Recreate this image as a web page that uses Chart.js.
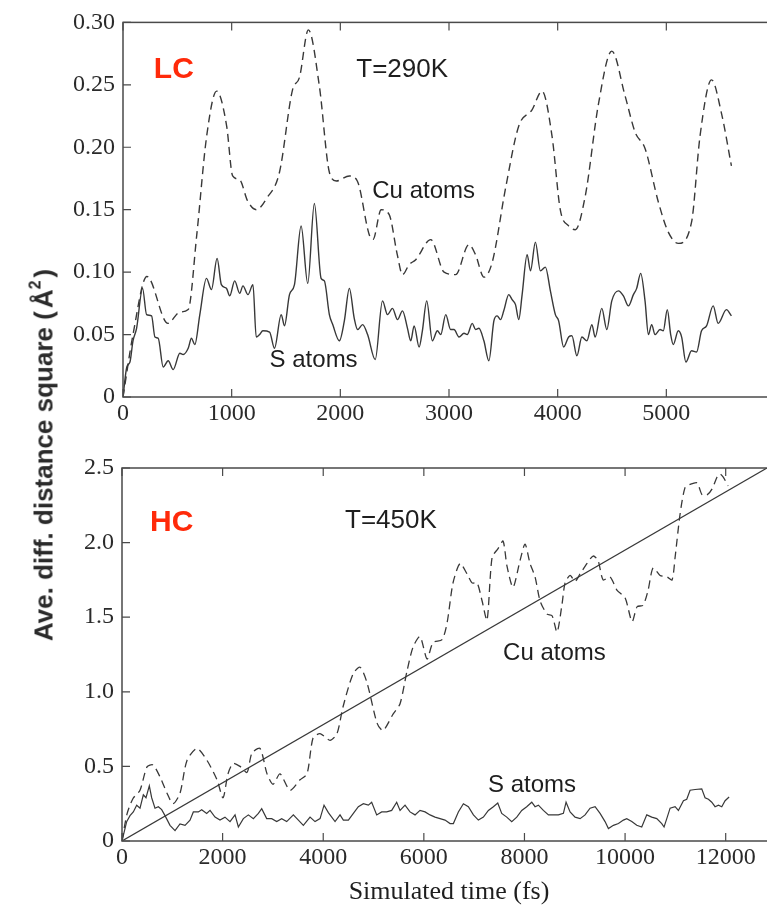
<!DOCTYPE html>
<html>
<head>
  <meta charset="UTF-8">
  <title>Diffusion</title>
  <script src="https://cdn.jsdelivr.net/npm/chart.js"></script>
  <style>
    html, body { margin: 0; padding: 0; overflow: hidden; background: #fff; width: 767px; height: 908px; }
    .panel { position: absolute; left: 0; }
    #ylab {
      position: absolute; left: 43px; top: 455px;
      transform: translate(-50%, -50%) rotate(-90deg);
      white-space: nowrap; font: bold 26px 'Liberation Sans', Arial, sans-serif; color: #2a2a2a;
    }
    #ylab sup { font-size: 16px; vertical-align: 12px; }
  </style>
</head>
<body>
<div class="panel" style="top:0"><canvas id="lcChart" width="777" height="440"></canvas></div>
<div class="panel" style="top:440px"><canvas id="hcChart" width="776" height="468"></canvas></div>
<div id="ylab">Ave. diff. distance square (<span style="padding:0 3px">Å<sup>2</sup></span>)</div>

<script>
  // LC, T=290K : Cu atoms (dashed)
  const lcCuTime = [0, 92, 220, 413, 523, 600, 679, 770, 862, 954, 1009, 1073, 1147, 1229, 1321, 1440, 1560, 1624, 1706, 1807,
    1899, 1963, 2083, 2156, 2266, 2300, 2376, 2450, 2524, 2572, 2633, 2694, 2832, 2955, 3061, 3183, 3244, 3321, 3398, 3520,
    3642, 3764, 3856, 3948, 4024, 4101, 4162, 4254, 4376, 4498, 4621, 4713, 4804, 4927, 5018, 5110, 5232, 5310, 5416, 5508, 5599];
  const lcCu = [0, 0.050, 0.0965, 0.059, 0.068, 0.070, 0.130, 0.209, 0.245, 0.217, 0.177, 0.174, 0.157, 0.150, 0.159, 0.180, 0.246, 0.256, 0.294, 0.249,
    0.180, 0.173, 0.177, 0.173, 0.130, 0.126, 0.150, 0.146, 0.114, 0.098, 0.106, 0.110, 0.126, 0.100, 0.098, 0.122, 0.114, 0.096, 0.108, 0.167,
    0.217, 0.230, 0.245, 0.209, 0.150, 0.137, 0.134, 0.161, 0.235, 0.277, 0.241, 0.212, 0.199, 0.156, 0.132, 0.123, 0.140, 0.209, 0.254, 0.227, 0.185];

  // LC : S atoms (solid)
  const lcSTime = [0, 35, 64, 92, 125, 180, 217, 263, 294, 324, 370, 416, 462, 523, 554, 600, 630, 661, 707, 768,
    814, 866, 905, 952, 982, 1028, 1074, 1104, 1150, 1196, 1226, 1257, 1287, 1349, 1394, 1456, 1486, 1532, 1578, 1639,
    1700, 1761, 1823, 1853, 1899, 1930, 1991, 2037, 2083, 2128, 2159, 2205, 2251, 2321, 2388, 2434, 2480, 2526, 2572, 2618,
    2648, 2679, 2725, 2755, 2795, 2847, 2893, 2924, 2970, 3015, 3046, 3092, 3138, 3168, 3214, 3245, 3275, 3321, 3367, 3413,
    3443, 3474, 3504, 3550, 3581, 3612, 3642, 3673, 3719, 3750, 3795, 3841, 3887, 3933, 3979, 4009, 4055, 4101, 4131, 4177,
    4223, 4269, 4315, 4345, 4406, 4452, 4498, 4559, 4605, 4651, 4697, 4727, 4764, 4804, 4835, 4865, 4896, 4942, 4972, 5009,
    5040, 5064, 5110, 5141, 5180, 5232, 5278, 5324, 5370, 5431, 5477, 5553, 5599];
  const lcS = [0, 0.024, 0.028, 0.045, 0.055, 0.087, 0.066, 0.065, 0.048, 0.047, 0.024, 0.029, 0.022, 0.035, 0.034, 0.039, 0.047, 0.042, 0.066, 0.095,
    0.086, 0.111, 0.090, 0.087, 0.081, 0.093, 0.083, 0.089, 0.082, 0.090, 0.048, 0.050, 0.053, 0.052, 0.039, 0.066, 0.057, 0.082, 0.090, 0.137,
    0.091, 0.155, 0.095, 0.093, 0.066, 0.058, 0.045, 0.061, 0.087, 0.063, 0.054, 0.058, 0.050, 0.030, 0.077, 0.066, 0.071, 0.062, 0.069, 0.055,
    0.045, 0.057, 0.040, 0.053, 0.077, 0.045, 0.053, 0.050, 0.066, 0.054, 0.054, 0.048, 0.051, 0.050, 0.059, 0.054, 0.055, 0.045, 0.029, 0.061,
    0.065, 0.062, 0.069, 0.082, 0.078, 0.074, 0.062, 0.082, 0.114, 0.101, 0.124, 0.101, 0.104, 0.085, 0.066, 0.061, 0.040, 0.048, 0.049, 0.033,
    0.048, 0.045, 0.058, 0.048, 0.071, 0.054, 0.077, 0.085, 0.081, 0.073, 0.082, 0.087, 0.099, 0.077, 0.050, 0.058, 0.050, 0.054, 0.053, 0.070,
    0.050, 0.042, 0.053, 0.048, 0.028, 0.037, 0.036, 0.053, 0.057, 0.073, 0.059, 0.070, 0.065];

  // HC, T=450K : Cu atoms (dashed)
  const hcCuTime = [0, 99, 219, 358, 497, 616, 755, 895, 1014, 1153, 1292, 1491, 1690, 1889, 2008, 2107, 2207, 2346, 2485, 2584,
    2744, 2883, 3002, 3141, 3340, 3539, 3678, 3797, 3936, 4135, 4274, 4394, 4592, 4732, 4871, 5070, 5189, 5388, 5527, 5666,
    5785, 5924, 6064, 6183, 6362, 6461, 6580, 6720, 6859, 6958, 7058, 7157, 7256, 7356, 7475, 7575, 7654, 7773, 7912, 8012,
    8111, 8211, 8310, 8449, 8549, 8648, 8748, 8807, 8907, 9006, 9105, 9244, 9364, 9463, 9563, 9702, 9841, 10000, 10139, 10239,
    10358, 10457, 10557, 10696, 10835, 10934, 10994, 11093, 11193, 11292, 11431, 11531, 11630, 11730, 11829, 11889, 11948, 12048];
  const hcCu = [0, 0.18, 0.285, 0.34, 0.497, 0.51, 0.43, 0.32, 0.25, 0.32, 0.54, 0.62, 0.54, 0.41, 0.29, 0.45, 0.52, 0.50, 0.46, 0.59,
    0.62, 0.45, 0.38, 0.45, 0.34, 0.41, 0.45, 0.69, 0.72, 0.675, 0.72, 0.90, 1.12, 1.165, 1.06, 0.79, 0.74, 0.85, 0.92, 1.14,
    1.30, 1.37, 1.22, 1.33, 1.35, 1.46, 1.73, 1.86, 1.79, 1.73, 1.73, 1.61, 1.48, 1.90, 1.96, 2.01, 1.84, 1.70, 1.88, 1.99,
    1.86, 1.77, 1.61, 1.52, 1.51, 1.40, 1.59, 1.73, 1.78, 1.74, 1.79, 1.86, 1.91, 1.88, 1.75, 1.77, 1.68, 1.63, 1.47, 1.57,
    1.58, 1.68, 1.83, 1.78, 1.77, 1.75, 1.90, 2.19, 2.37, 2.39, 2.40, 2.32, 2.32, 2.36, 2.44, 2.46, 2.44, 2.38];

  // HC : S atoms (solid)
  const hcSTime = [0, 93, 159, 225, 292, 358, 424, 477, 543, 590, 656, 722, 789, 855, 954, 1054, 1153, 1253, 1352, 1418,
    1518, 1584, 1683, 1750, 1849, 1948, 2047, 2147, 2247, 2313, 2412, 2512, 2611, 2711, 2777, 2876, 2976, 3075, 3174, 3274,
    3406, 3506, 3605, 3738, 3837, 3937, 4016, 4102, 4135, 4235, 4334, 4400, 4500, 4599, 4698, 4798, 4897, 4963, 5063, 5162,
    5261, 5361, 5460, 5527, 5626, 5725, 5825, 5924, 6024, 6123, 6222, 6322, 6421, 6521, 6587, 6686, 6786, 6885, 6985, 7084,
    7184, 7283, 7382, 7469, 7548, 7648, 7747, 7847, 7946, 8045, 8145, 8211, 8277, 8376, 8476, 8575, 8674, 8774, 8827, 8907,
    9006, 9106, 9205, 9304, 9404, 9503, 9602, 9669, 9768, 9868, 9967, 10033, 10133, 10232, 10331, 10431, 10530, 10630, 10729, 10775,
    10829, 10895, 10994, 11060, 11160, 11226, 11292, 11392, 11524, 11590, 11657, 11723, 11789, 11856, 11922, 11988, 12068];
  const hcS = [0, 0.13, 0.17, 0.195, 0.24, 0.22, 0.31, 0.29, 0.37, 0.29, 0.22, 0.23, 0.21, 0.17, 0.105, 0.07, 0.115, 0.105, 0.14, 0.195,
    0.195, 0.21, 0.185, 0.205, 0.16, 0.14, 0.16, 0.13, 0.175, 0.094, 0.15, 0.175, 0.15, 0.185, 0.217, 0.15, 0.15, 0.13, 0.15, 0.13,
    0.175, 0.14, 0.105, 0.16, 0.13, 0.15, 0.24, 0.19, 0.175, 0.13, 0.175, 0.14, 0.14, 0.185, 0.23, 0.25, 0.24, 0.26, 0.175, 0.195,
    0.195, 0.205, 0.26, 0.205, 0.24, 0.195, 0.175, 0.205, 0.195, 0.175, 0.16, 0.15, 0.14, 0.117, 0.117, 0.195, 0.25, 0.23, 0.175, 0.14,
    0.16, 0.205, 0.23, 0.255, 0.185, 0.16, 0.13, 0.16, 0.205, 0.23, 0.26, 0.23, 0.24, 0.205, 0.175, 0.175, 0.175, 0.185, 0.26, 0.195,
    0.16, 0.15, 0.175, 0.22, 0.23, 0.185, 0.13, 0.083, 0.105, 0.117, 0.14, 0.15, 0.13, 0.105, 0.094, 0.175, 0.16, 0.15, 0.117, 0.094,
    0.15, 0.22, 0.23, 0.205, 0.27, 0.28, 0.34, 0.345, 0.35, 0.29, 0.28, 0.26, 0.23, 0.24, 0.23, 0.27, 0.295];

  // HC : linear fit through the Cu curve
  const hcFitTime = [0, 13000];
  const hcFit = [0, 2.535];

  // tick values
  const lcXTicks = [0, 1000, 2000, 3000, 4000, 5000, 6000];
  const lcYTicks = [0, 0.05, 0.10, 0.15, 0.20, 0.25, 0.30];
  const hcXTicks = [0, 2000, 4000, 6000, 8000, 10000, 12000];
  const hcYTicks = [0, 0.5, 1.0, 1.5, 2.0, 2.5];

  const lineColor = '#383838';
  const serif = "'Liberation Serif', 'Times New Roman', serif";
  const sans = "'Liberation Sans', Arial, sans-serif";

  function pts(xs, ys) {
    return xs.map((x, i) => ({x: x, y: ys[i]}));
  }

  // frame box and inward tick marks on all four sides
  const frameTicks = {
    id: 'frameTicks',
    afterDatasetsDraw(chart) {
      const {ctx, chartArea: a, scales: {x, y}} = chart;
      const len = 8;
      ctx.save();
      ctx.strokeStyle = '#4a4a4a';
      ctx.lineWidth = 1.5;
      ctx.strokeRect(a.left, a.top, a.right - a.left, a.bottom - a.top);
      ctx.lineWidth = 1.2;
      ctx.beginPath();
      x.ticks.forEach(t => {
        const px = x.getPixelForValue(t.value);
        ctx.moveTo(px, a.bottom); ctx.lineTo(px, a.bottom - len);
        ctx.moveTo(px, a.top); ctx.lineTo(px, a.top + len);
      });
      y.ticks.forEach(t => {
        const py = y.getPixelForValue(t.value);
        ctx.moveTo(a.left, py); ctx.lineTo(a.left + len, py);
        ctx.moveTo(a.right, py); ctx.lineTo(a.right - len, py);
      });
      ctx.stroke();
      ctx.restore();
    }
  };

  // text labels placed in data coordinates
  const notes = {
    id: 'notes',
    afterDatasetsDraw(chart, args, opts) {
      const {ctx, scales: {x, y}} = chart;
      ctx.save();
      ctx.textBaseline = 'middle';
      ctx.textAlign = 'left';
      opts.items.forEach(n => {
        ctx.font = n.font;
        ctx.fillStyle = n.color || '#1e1e1e';
        ctx.fillText(n.text, x.getPixelForValue(n.x), y.getPixelForValue(n.y));
      });
      ctx.restore();
    }
  };

  function makeChart(id, cfg) {
    return new Chart(document.getElementById(id), {
      type: 'line',
      data: {datasets: cfg.datasets},
      options: {
        responsive: false,
        animation: false,
        events: [],
        layout: {padding: {top: cfg.padTop, left: 0, right: 0, bottom: 0}},
        elements: {point: {radius: 0}},
        plugins: {
          legend: {display: false},
          tooltip: {enabled: false},
          notes: {items: cfg.notes}
        },
        scales: {
          x: {
            type: 'linear', min: 0, max: cfg.xMax,
            grid: {display: false, drawTicks: false},
            border: {display: false},
            afterFit: s => { s.height = cfg.xHeight; },
            afterBuildTicks: s => { s.ticks = cfg.xTicks.map(v => ({value: v})); },
            title: cfg.xTitle ? {
              display: true, text: cfg.xTitle, color: '#1e1e1e',
              font: {family: serif, size: 26}, padding: {top: 0, bottom: 0}
            } : {display: false},
            ticks: {
              maxRotation: 0, autoSkip: false,
              padding: 2, color: '#2a2a2a', font: {family: serif, size: 24},
              callback: v => (v > cfg.xLastLabel ? '' : v)
            }
          },
          y: {
            type: 'linear', min: 0, max: cfg.yMax,
            grid: {display: false, drawTicks: false},
            border: {display: false},
            afterFit: s => { s.width = cfg.yWidth; },
            afterBuildTicks: s => { s.ticks = cfg.yTicks.map(v => ({value: v})); },
            ticks: {
              padding: 8, color: '#2a2a2a', font: {family: serif, size: 24},
              callback: v => (v === 0 ? '0' : v.toFixed(cfg.yDigits))
            }
          }
        }
      },
      plugins: [frameTicks, notes]
    });
  }

  makeChart('lcChart', {
    padTop: 18, xMax: 6000, xTicks: lcXTicks, xLastLabel: 5000, xHeight: 43, yWidth: 123,
    yMax: 0.30, yTicks: lcYTicks, yDigits: 2,
    datasets: [
      {data: pts(lcCuTime, lcCu), borderColor: lineColor, borderWidth: 1.4, borderDash: [8, 5],
        cubicInterpolationMode: 'monotone'},
      {data: pts(lcSTime, lcS), borderColor: lineColor, borderWidth: 1.4,
        cubicInterpolationMode: 'monotone'}
    ],
    notes: [
      {text: 'LC', x: 284, y: 0.262, font: 'bold 30px ' + sans, color: '#ff2a0a'},
      {text: 'T=290K', x: 2147, y: 0.262, font: '26px ' + sans},
      {text: 'Cu atoms', x: 2294, y: 0.165, font: '24px ' + sans},
      {text: 'S atoms', x: 1349, y: 0.029, font: '24px ' + sans}
    ]
  });

  makeChart('hcChart', {
    padTop: 28, xMax: 13000, xTicks: hcXTicks, xLastLabel: 12000, xHeight: 67, yWidth: 122,
    yMax: 2.5, yTicks: hcYTicks, yDigits: 1, xTitle: 'Simulated time (fs)',
    datasets: [
      {data: pts(hcCuTime, hcCu), borderColor: lineColor, borderWidth: 1.3, borderDash: [8, 5], tension: 0.25},
      {data: pts(hcSTime, hcS), borderColor: lineColor, borderWidth: 1.2, tension: 0},
      {data: pts(hcFitTime, hcFit), borderColor: lineColor, borderWidth: 1.2, tension: 0}
    ],
    notes: [
      {text: 'HC', x: 557, y: 2.136, font: 'bold 30px ' + sans, color: '#ff2a0a'},
      {text: 'T=450K', x: 4433, y: 2.143, font: '26px ' + sans},
      {text: 'Cu atoms', x: 7575, y: 1.258, font: '24px ' + sans},
      {text: 'S atoms', x: 7276, y: 0.373, font: '24px ' + sans}
    ]
  });
</script>
</body>
</html>
